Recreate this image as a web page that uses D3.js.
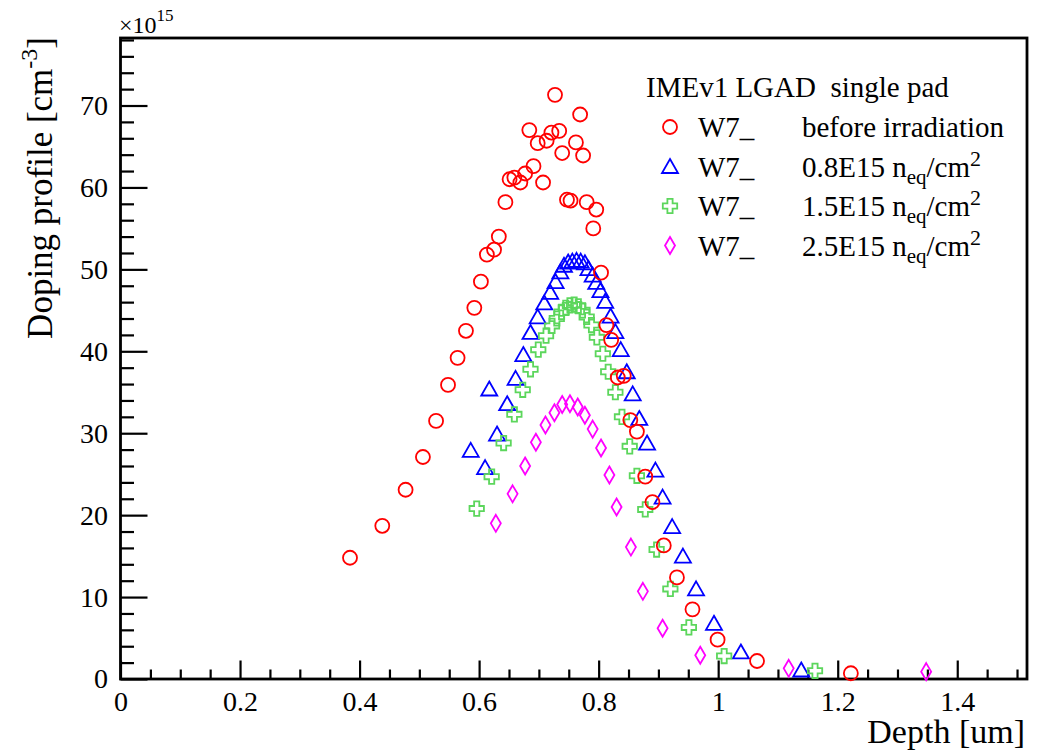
<!DOCTYPE html>
<html>
<head>
<meta charset="utf-8">
<script src="https://cdn.jsdelivr.net/npm/d3@7"></script>
<style>
  html, body { margin: 0; padding: 0; background: #fff; }
  svg { display: block; }
  text { font-family: "Liberation Serif", "Times New Roman", serif; fill: #000; }
</style>
</head>
<body>
<svg id="chart" width="1048" height="751"></svg>
<script>
// Doping profile of IMEv1 LGAD single pad, wafer W7, from C-V scans.
// Depth in um, doping in units of 1e15 cm^-3.

const depthBefore = [0.384, 0.438, 0.477, 0.506, 0.528, 0.548, 0.564, 0.578, 0.592, 0.603,
  0.613, 0.625, 0.633, 0.644, 0.651, 0.659, 0.669, 0.677, 0.684, 0.691,
  0.698, 0.707, 0.713, 0.721, 0.727, 0.734, 0.739, 0.747, 0.753, 0.762,
  0.769, 0.774, 0.780, 0.791, 0.796, 0.804, 0.813, 0.821, 0.832, 0.842,
  0.853, 0.864, 0.878, 0.890, 0.909, 0.931, 0.957, 0.999, 1.065, 1.222];
const dopingBefore = [14.8, 18.7, 23.1, 27.1, 31.5, 35.9, 39.2, 42.5, 45.3, 48.5,
  51.8, 52.4, 54.0, 58.2, 61.0, 61.2, 60.6, 61.7, 67.0, 62.6,
  65.4, 60.6, 65.7, 66.7, 71.3, 66.9, 64.2, 58.5, 58.4, 65.5,
  68.9, 63.9, 58.2, 55.0, 57.3, 49.6, 43.2, 41.4, 36.8, 37.0,
  31.6, 30.2, 24.7, 21.6, 16.3, 12.4, 8.5, 4.8, 2.2, 0.7];

const depth08 = [0.586, 0.610, 0.617, 0.630, 0.647, 0.661, 0.674, 0.686, 0.698, 0.709,
  0.719, 0.728, 0.736, 0.742, 0.749, 0.756, 0.763, 0.770, 0.777, 0.783,
  0.790, 0.796, 0.803, 0.811, 0.820, 0.828, 0.837, 0.847, 0.857, 0.868,
  0.881, 0.895, 0.907, 0.923, 0.941, 0.963, 0.993, 1.038, 1.139];
const doping08 = [27.9, 25.8, 35.4, 29.9, 33.6, 36.7, 39.6, 42.3, 44.2, 45.9,
  47.2, 48.5, 49.7, 50.5, 50.9, 51.0, 51.1, 51.0, 50.8, 50.1,
  49.3, 48.4, 47.4, 46.1, 44.3, 42.4, 40.2, 37.5, 34.8, 31.8,
  28.8, 25.5, 22.2, 18.6, 15.0, 11.0, 6.8, 3.3, 1.1];

const depth15 = [0.596, 0.621, 0.641, 0.659, 0.673, 0.686, 0.699, 0.712, 0.722, 0.730,
  0.738, 0.745, 0.752, 0.759, 0.766, 0.773, 0.780, 0.788, 0.797, 0.807,
  0.816, 0.828, 0.839, 0.852, 0.864, 0.878, 0.897, 0.920, 0.951, 1.010,
  1.162];
const doping15 = [20.8, 24.7, 28.8, 32.3, 35.3, 37.8, 40.2, 41.9, 43.1, 44.0,
  44.8, 45.3, 45.6, 45.7, 45.5, 45.0, 44.2, 43.2, 41.7, 39.7,
  37.5, 35.0, 32.0, 28.4, 24.8, 20.7, 15.8, 11.0, 6.3, 2.8,
  1.0];

const depth25 = [0.628, 0.656, 0.677, 0.695, 0.711, 0.726, 0.739, 0.752, 0.765, 0.777,
  0.790, 0.804, 0.818, 0.830, 0.854, 0.874, 0.907, 0.970, 1.118, 1.348];
const doping25 = [19.0, 22.6, 26.0, 28.9, 31.0, 32.5, 33.5, 33.6, 33.2, 32.2,
  30.5, 28.2, 24.9, 21.0, 16.1, 10.7, 6.2, 2.9, 1.3, 0.9];

const xMajorTicks = [0, 0.2, 0.4, 0.6, 0.8, 1.0, 1.2, 1.4];
const yMajorTicks = [0, 10, 20, 30, 40, 50, 60, 70];

const legendHeader = "IMEv1 LGAD  single pad";
const sampleName = "W7_";
const fluenceLabels = ["before irradiation", "0.8E15", "1.5E15", "2.5E15"];

// ---------------------------------------------------------------------------

const svg = d3.select("#chart");
const frame = { left: 120.5, right: 1027, top: 38, bottom: 679 };

const x = d3.scaleLinear().domain([0, 1.5167]).range([frame.left, frame.right]);
const y = d3.scaleLinear().domain([0, 78.24]).range([frame.bottom, frame.top]);

const xMinorTicks = d3.range(0, 31).map(i => +(i * 0.05).toFixed(2)).filter(v => !xMajorTicks.includes(v));
const yMinorTicks = d3.range(0, 40).map(i => i * 2).filter(v => v % 10 !== 0);

const fmt = d3.format("~g");

// x axis: ticks pointing into the frame
const gx = svg.append("g").attr("transform", `translate(0,${frame.bottom})`);
gx.call(d3.axisBottom(x).tickValues(xMajorTicks).tickSize(-18.5).tickSizeOuter(0)
  .tickPadding(12.5).tickFormat(fmt));
gx.append("g").call(d3.axisBottom(x).tickValues(xMinorTicks).tickSize(-9.5).tickSizeOuter(0).tickFormat(""));

const gy = svg.append("g").attr("transform", `translate(${frame.left},0)`);
gy.call(d3.axisLeft(y).tickValues(yMajorTicks).tickSize(-27).tickSizeOuter(0)
  .tickPadding(12.5).tickFormat(fmt));
gy.append("g").call(d3.axisLeft(y).tickValues(yMinorTicks).tickSize(-13.5).tickSizeOuter(0).tickFormat(""));

svg.selectAll(".domain").remove();
svg.selectAll(".tick line").attr("stroke", "#000").attr("stroke-width", 2.2);
svg.selectAll(".tick text").attr("font-size", 28)
  .attr("font-family", "'Liberation Serif','Times New Roman',serif").attr("fill", "#000");

// frame
svg.append("rect")
  .attr("x", frame.left).attr("y", frame.top)
  .attr("width", frame.right - frame.left).attr("height", frame.bottom - frame.top)
  .attr("fill", "none").attr("stroke", "#000").attr("stroke-width", 2.8);

// exponent label
const expo = svg.append("text").attr("x", 119).attr("y", 33).attr("font-size", 24);
expo.append("tspan").text("\u00d710");
expo.append("tspan").attr("font-size", 17).attr("dy", -12).text("15");

// axis titles
svg.append("text")
  .attr("x", 1025).attr("y", 743).attr("text-anchor", "end").attr("font-size", 34)
  .text("Depth [um]");

const yt = svg.append("text")
  .attr("transform", "translate(52,37) rotate(-90)")
  .attr("text-anchor", "end").attr("font-size", 35);
yt.append("tspan").text("Doping profile [cm");
yt.append("tspan").attr("font-size", 24).attr("dy", -15).text("-3");
yt.append("tspan").attr("dy", 15).text("]");

// marker shapes as d3 symbol types
const symCircle = { draw(ctx) { ctx.moveTo(7, 0); ctx.arc(0, 0, 7, 0, 2 * Math.PI); } };
const symTriangle = { draw(ctx) { ctx.moveTo(0, -7.5); ctx.lineTo(8, 6.5); ctx.lineTo(-8, 6.5); ctx.closePath(); } };
const symCross = { draw(ctx) {
  const a = 2.6, L = 7.2;
  const pts = [[-a,-L],[a,-L],[a,-a],[L,-a],[L,a],[a,a],[a,L],[-a,L],[-a,a],[-L,a],[-L,-a],[-a,-a]];
  ctx.moveTo(pts[0][0], pts[0][1]);
  pts.slice(1).forEach(p => ctx.lineTo(p[0], p[1]));
  ctx.closePath();
} };
const symDiamond = { draw(ctx) { ctx.moveTo(0, -8.5); ctx.lineTo(5, 0); ctx.lineTo(0, 8.5); ctx.lineTo(-5, 0); ctx.closePath(); } };

const series = [
  { xs: depth08, ys: doping08, sym: symTriangle, color: "#0000ff" },
  { xs: depth15, ys: doping15, sym: symCross, color: "#5cd65c" },
  { xs: depth25, ys: doping25, sym: symDiamond, color: "#ff00ff" },
  { xs: depthBefore, ys: dopingBefore, sym: symCircle, color: "#ff0000" }
];

series.forEach(s => {
  const path = d3.symbol().type(s.sym).size(1)();
  svg.append("g").selectAll("path")
    .data(s.xs.map((d, i) => [d, s.ys[i]]))
    .join("path")
    .attr("d", path)
    .attr("transform", d => `translate(${x(d[0])},${y(d[1])})`)
    .attr("fill", "none").attr("stroke", s.color).attr("stroke-width", 1.8);
});

// legend
const legend = svg.append("g");
legend.append("text").attr("x", 646).attr("y", 97).attr("font-size", 29)
  .style("white-space", "pre").text(legendHeader);

const legendOrder = [series[3], series[0], series[1], series[2]];
legendOrder.forEach((s, i) => {
  const cy = 127 + 39.5 * i;
  legend.append("path").attr("d", d3.symbol().type(s.sym).size(1)())
    .attr("transform", `translate(670,${cy})`)
    .attr("fill", "none").attr("stroke", s.color).attr("stroke-width", 1.8);
  legend.append("text").attr("x", 698).attr("y", cy + 10).attr("font-size", 29).text(sampleName);
  const t = legend.append("text").attr("x", 802).attr("y", cy + 10).attr("font-size", 29);
  if (i === 0) {
    t.text(fluenceLabels[0]);
  } else {
    t.append("tspan").text(fluenceLabels[i] + " n");
    t.append("tspan").attr("font-size", 21).attr("dy", 7).text("eq");
    t.append("tspan").attr("dy", -7).text("/cm");
    t.append("tspan").attr("font-size", 22).attr("dy", -11).text("2");
  }
});
</script>
</body>
</html>
